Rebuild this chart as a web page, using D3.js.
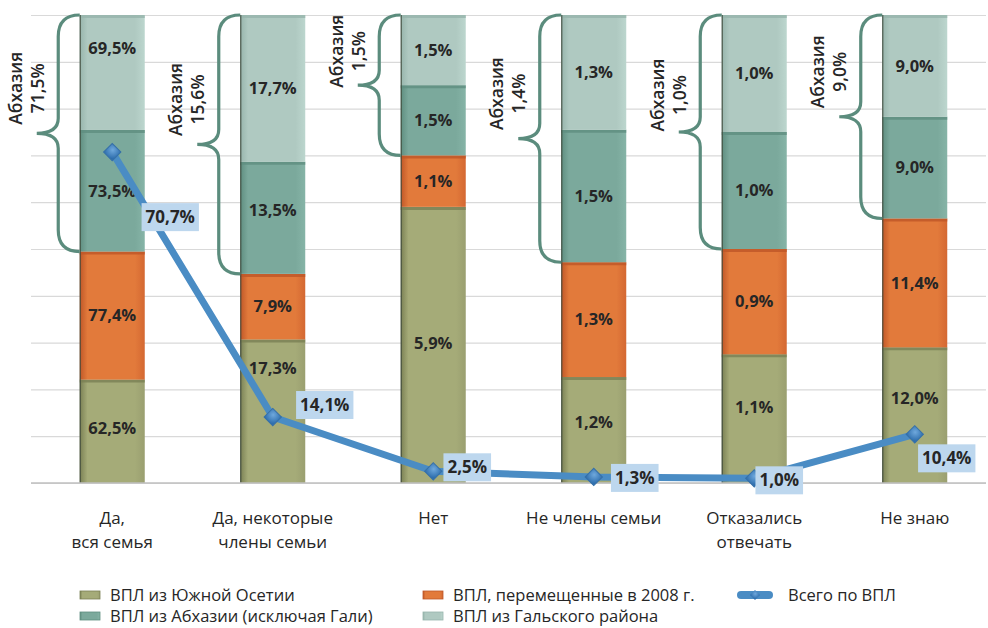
<!DOCTYPE html>
<html>
<head>
<meta charset="utf-8">
<script src="https://cdn.jsdelivr.net/npm/d3@7"></script>
<style>
  body { margin: 0; background: #fff; }
  svg { display: block; font-family: "Open Sans", "Noto Sans", sans-serif; }
</style>
</head>
<body>
<div id="chart"></div>
<script>
// categories and values
var categories = [["Да,", "вся семья"], ["Да, некоторые", "члены семьи"], ["Нет"], ["Не члены семьи"], ["Отказались", "отвечать"], ["Не знаю"]];
var southOssetia = [62.5, 17.3, 5.9, 1.2, 1.1, 12.0];
var moved2008 = [77.4, 7.9, 1.1, 1.3, 0.9, 11.4];
var abkhazia = [73.5, 13.5, 1.5, 1.5, 1.0, 9.0];
var gali = [69.5, 17.7, 1.5, 1.3, 1.0, 9.0];
var abkhaziaTotal = [71.5, 15.6, 1.5, 1.4, 1.0, 9.0];
var totalIdp = [70.7, 14.1, 2.5, 1.3, 1.0, 10.4];
var seriesNames = ["ВПЛ из Южной Осетии", "ВПЛ, перемещенные в 2008 г.", "ВПЛ из Абхазии (исключая Гали)", "ВПЛ из Гальского района"];
var lineName = "Всего по ВПЛ";

// label nudges (px) so they sit where the original put them
var lineLabelOffsets = [[58, 65], [52, -12], [34, -4], [41, 1], [25, 2], [32, 24]];
var segLabelShift = [[-3, -43, -2, -8, -11, -17], [0, 0, 0, 0, 0, 0], [0, -8, 0, 0, 0, 0], [-24, 0, 0, 0, 0, 0]];
var braceLabelShift = [0, 0, 11, 0, 8, 0];

var W = 988, H = 628;
var svg = d3.select("#chart").append("svg").attr("width", W).attr("height", H);

var x = d3.scaleBand().domain(d3.range(categories.length)).range([32, 995]).paddingInner(0.595).paddingOuter(0.2975);
var y = d3.scaleLinear().domain([0, 100]).range([483, 15]);

var colors = [
  ["#7a8054", "#a5ab78", "#9a9f70"],
  ["#bf5728", "#e27a3b", "#d46832"],
  ["#5f8e80", "#7ba99c", "#86b4a7"],
  ["#97b5ac", "#afc9c1", "#bcd6ce"]
];
var defs = svg.append("defs");
colors.forEach(function(c, i) {
  var g = defs.append("linearGradient").attr("id", "grad" + i).attr("x1", 0).attr("x2", 1).attr("y1", 0).attr("y2", 0);
  g.append("stop").attr("offset", "0%").attr("stop-color", c[0]);
  g.append("stop").attr("offset", "12%").attr("stop-color", c[1]);
  g.append("stop").attr("offset", "85%").attr("stop-color", c[1]);
  g.append("stop").attr("offset", "100%").attr("stop-color", c[2]);
});
var dg = defs.append("radialGradient").attr("id", "diam").attr("cx", "40%").attr("cy", "35%").attr("r", "70%");
dg.append("stop").attr("offset", "0%").attr("stop-color", "#6fa8dc");
dg.append("stop").attr("offset", "100%").attr("stop-color", "#2f6fae");

// gridlines
svg.append("g")
  .call(d3.axisLeft(y).tickValues(d3.range(0, 101, 10)).tickSize(-(986 - 31)).tickFormat(""))
  .attr("transform", "translate(31,0)")
  .call(function(g) {
    g.select(".domain").remove();
    g.selectAll(".tick line").attr("stroke", "#d9d9d9").attr("stroke-width", 1.2);
  });

// normalised stacks (each bar = 100%)
var rows = categories.map(function(c, i) {
  return { i: i, s0: southOssetia[i], s1: moved2008[i], s2: abkhazia[i], s3: gali[i] };
});
var stack = d3.stack().keys(["s0", "s1", "s2", "s3"]).offset(d3.stackOffsetExpand);
var layers = stack(rows);

var layer = svg.selectAll("g.layer").data(layers).join("g").attr("class", "layer");
layer.selectAll("rect").data(function(d) { return d; }).join("rect")
  .attr("x", function(d) { return x(d.data.i); })
  .attr("width", x.bandwidth())
  .attr("y", function(d) { return y(d[1] * 100); })
  .attr("height", function(d) { return y(d[0] * 100) - y(d[1] * 100); })
  .attr("fill", function(d, j, n) { return "url(#grad" + d3.select(n[j].parentNode).datum().index + ")"; });

// segment separators
layer.each(function(L) {
  var c = colors[L.index][0];
  d3.select(this).selectAll("line.sep").data(L).join("line").attr("class", "sep")
    .attr("x1", function(d) { return x(d.data.i); })
    .attr("x2", function(d) { return x(d.data.i) + x.bandwidth(); })
    .attr("y1", function(d) { return y(d[1] * 100) + 1.5; })
    .attr("y2", function(d) { return y(d[1] * 100) + 1.5; })
    .attr("stroke", c).attr("stroke-width", 3).attr("opacity", 0.8);
});

// dark left edge of each bar
svg.append("g").selectAll("line").data(rows).join("line")
  .attr("x1", function(d) { return x(d.i) + 0.5; })
  .attr("x2", function(d) { return x(d.i) + 0.5; })
  .attr("y1", y(100)).attr("y2", y(0))
  .attr("stroke", "#3f4a3c").attr("stroke-width", 1.3).attr("opacity", 0.8);

// axis baseline
svg.append("line").attr("x1", 31).attr("x2", 986).attr("y1", y(0)).attr("y2", y(0))
  .attr("stroke", "#bfbfbf").attr("stroke-width", 1.5);

// segment value labels
var fmt = function(v) { return d3.format(".1f")(v).replace(".", ",") + "%"; };
layer.each(function(L) {
  d3.select(this).selectAll("text").data(L).join("text")
    .attr("x", function(d) { return x(d.data.i) + x.bandwidth() / 2; })
    .attr("y", function(d) { return (y(d[0] * 100) + y(d[1] * 100)) / 2 + segLabelShift[L.index][d.data.i]; })
    .attr("dy", "0.35em")
    .attr("text-anchor", "middle")
    .attr("font-size", 16.5).attr("font-weight", 700).attr("fill", "#262626")
    .text(function(d) { return fmt(d.data[L.key]); });
});

// Abkhazia braces
var braceW = 43;
var braces = svg.append("g");
rows.forEach(function(r, i) {
  var top = y(layers[3][i][1] * 100), bot = y(layers[2][i][0] * 100);
  var x0 = x(i), xm = x0 - braceW / 2, xt = x0 - braceW, ym = (top + bot) / 2, rr = braceW / 2;
  var p = d3.path();
  p.moveTo(x0, top);
  p.quadraticCurveTo(xm, top, xm, top + rr);
  p.lineTo(xm, ym - rr * 0.7);
  p.quadraticCurveTo(xm, ym, xt, ym);
  p.quadraticCurveTo(xm, ym, xm, ym + rr * 0.7);
  p.lineTo(xm, bot - rr);
  p.quadraticCurveTo(xm, bot, x0, bot);
  braces.append("path").attr("d", p.toString()).attr("fill", "none")
    .attr("stroke", "#5b8c7d").attr("stroke-width", 3.2);
  var t = braces.append("text")
    .attr("transform", "translate(" + (x0 - 53) + "," + (ym - 45 + braceLabelShift[i]) + ") rotate(-90)")
    .attr("text-anchor", "middle").attr("font-size", 17.5).attr("font-weight", 600).attr("fill", "#262626");
  t.append("tspan").attr("x", 0).attr("y", -5).text("Абхазия");
  t.append("tspan").attr("x", 0).attr("y", 17).text(fmt(abkhaziaTotal[i]));
});

// total line
var cx = function(i) { return x(i) + x.bandwidth() / 2; };
svg.append("path").datum(totalIdp)
  .attr("d", d3.line().x(function(d, i) { return cx(i); }).y(function(d) { return y(d); }))
  .attr("fill", "none").attr("stroke", "#4a8cc4").attr("stroke-width", 7).attr("stroke-linejoin", "round");
var sym = d3.symbol().type(d3.symbolSquare).size(150);
svg.append("g").selectAll("path").data(totalIdp).join("path")
  .attr("d", sym)
  .attr("transform", function(d, i) { return "translate(" + cx(i) + "," + y(d) + ") rotate(45)"; })
  .attr("fill", "url(#diam)").attr("stroke", "#3670a8").attr("stroke-width", 1);

var ll = svg.append("g").selectAll("g").data(totalIdp).join("g")
  .attr("transform", function(d, i) { return "translate(" + (cx(i) + lineLabelOffsets[i][0]) + "," + (y(d) + lineLabelOffsets[i][1]) + ")"; });
ll.append("text").attr("text-anchor", "middle").attr("dy", "0.35em")
  .attr("font-size", 17).attr("font-weight", 700).attr("fill", "#262626")
  .text(function(d) { return fmt(d); })
  .each(function() {
    var b = this.getBBox();
    d3.select(this.parentNode).insert("rect", "text")
      .attr("x", b.x - 4).attr("y", -14).attr("width", b.width + 8).attr("height", 28)
      .attr("fill", "#bdd7ee");
  });

// category labels
var cat = svg.append("g").selectAll("text").data(categories).join("text")
  .attr("text-anchor", "middle").attr("font-size", 17).attr("fill", "#262626");
cat.selectAll("tspan").data(function(d, i) { return d.map(function(s) { return { s: s, i: i }; }); }).join("tspan")
  .attr("x", function(d) { return cx(d.i); })
  .attr("y", function(d, k) { return 524 + k * 24; })
  .text(function(d) { return d.s; });

// legend
var legendPos = [[80, 595], [423, 595], [80, 616], [423, 616]];
var leg = svg.append("g");
seriesNames.forEach(function(n, i) {
  var p = legendPos[i];
  leg.append("rect").attr("x", p[0]).attr("y", p[1] - 4).attr("width", 20).attr("height", 8)
    .attr("fill", "url(#grad" + i + ")").attr("stroke", colors[i][0]).attr("stroke-width", 0.8);
  leg.append("text").attr("x", p[0] + 30).attr("y", p[1]).attr("dy", "0.35em")
    .attr("font-size", 16.5).attr("fill", "#262626").text(n);
});
leg.append("line").attr("x1", 741).attr("x2", 769).attr("y1", 595).attr("y2", 595)
  .attr("stroke", "#4a8cc4").attr("stroke-width", 8).attr("stroke-linecap", "round");
leg.append("path").attr("d", d3.symbol().type(d3.symbolSquare).size(50))
  .attr("transform", "translate(755,595) rotate(45)").attr("fill", "url(#diam)");
leg.append("text").attr("x", 788).attr("y", 595).attr("dy", "0.35em")
  .attr("font-size", 16.5).attr("fill", "#262626").text(lineName);
</script>
</body>
</html>
